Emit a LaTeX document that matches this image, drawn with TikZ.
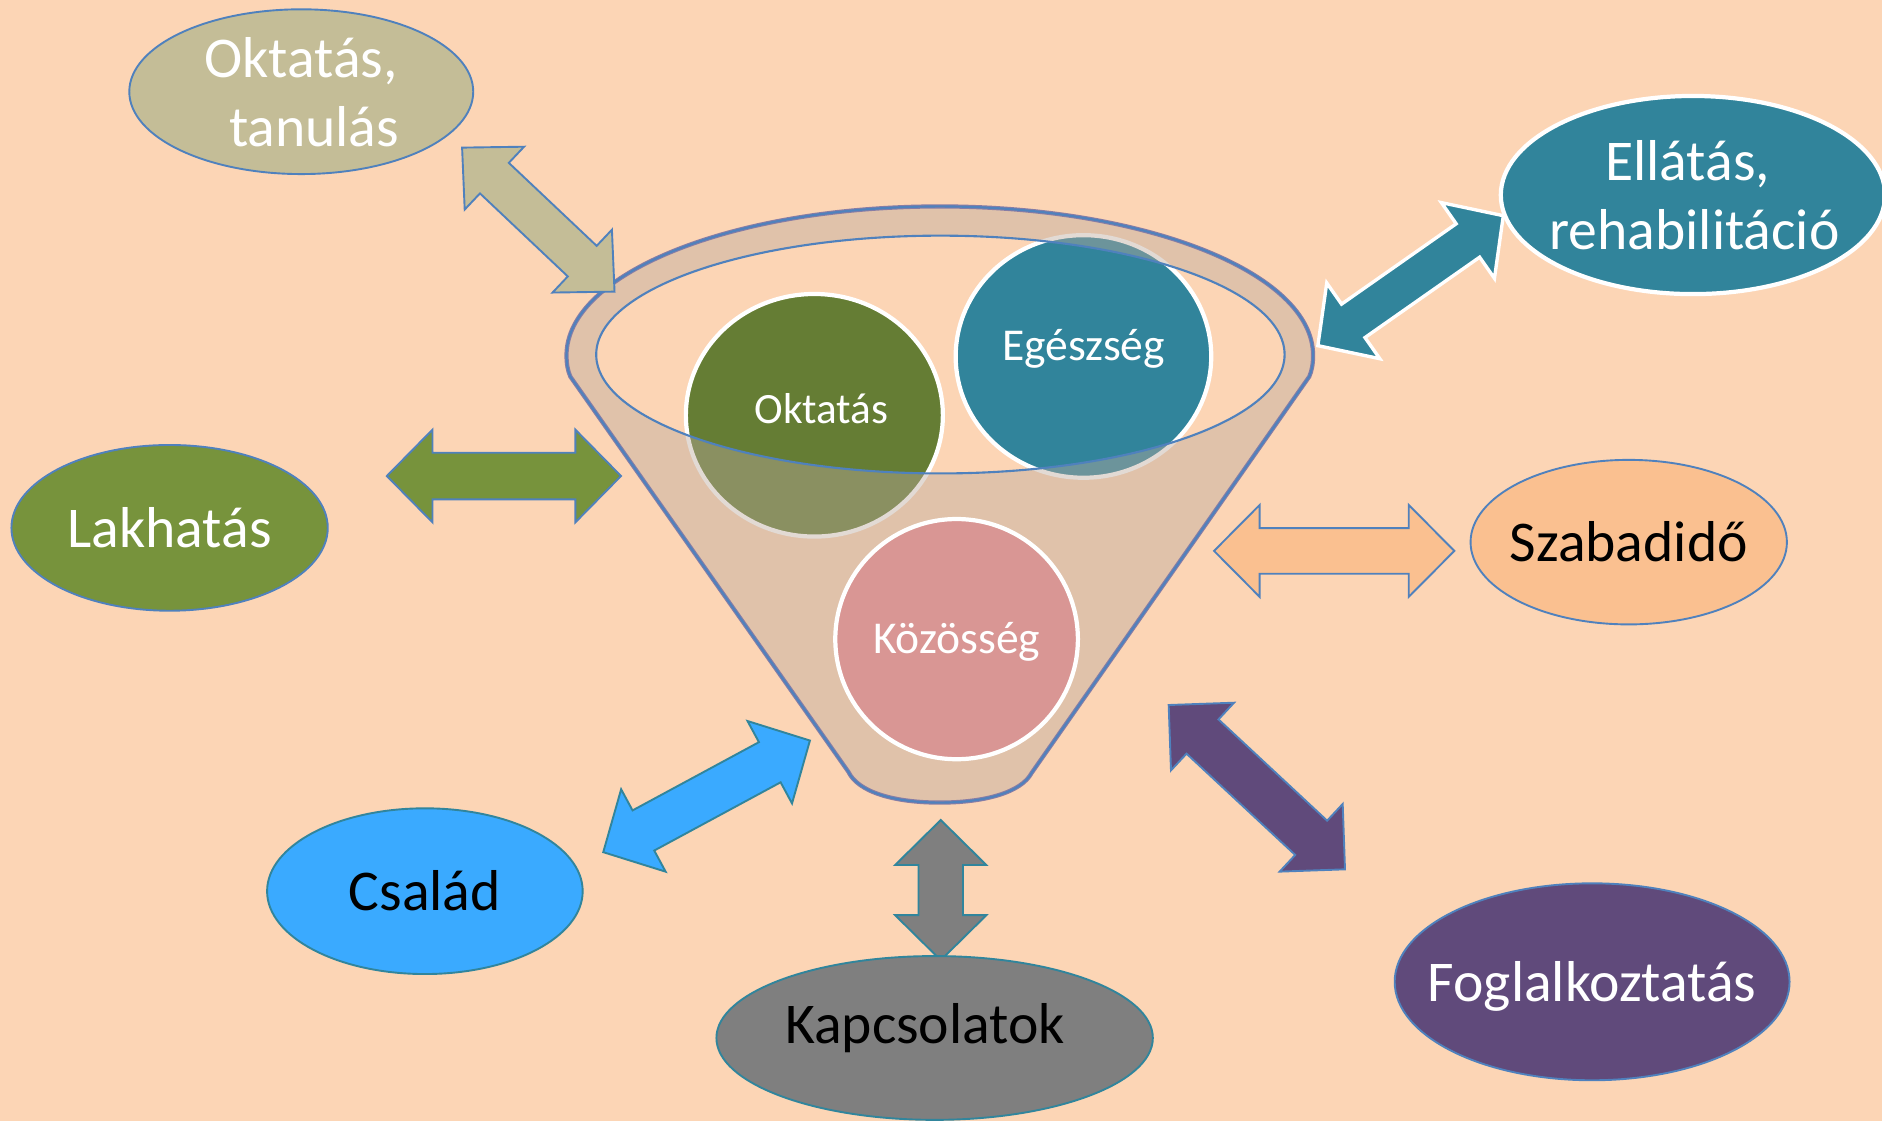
\documentclass[tikz,border=0pt]{standalone}
\usepackage{fontspec}
\setmainfont{Carlito}
\usetikzlibrary{calc,shapes.geometric}
\definecolor{bgc}{RGB}{252,213,181}
\definecolor{tanc}{RGB}{196,189,151}
\definecolor{linec}{RGB}{79,129,189}
\definecolor{tealc}{RGB}{49,132,155}
\definecolor{tealline}{RGB}{49,133,156}
\definecolor{grnc}{RGB}{119,147,60}
\definecolor{olivc}{RGB}{101,125,52}
\definecolor{rosec}{RGB}{217,150,148}
\definecolor{peachc}{RGB}{250,192,144}
\definecolor{bluec}{RGB}{58,170,255}
\definecolor{grayc}{RGB}{127,127,127}
\definecolor{purc}{RGB}{96,74,123}
\definecolor{func}{RGB}{188,170,157}
\definecolor{shadc}{RGB}{135,125,165}
% #1 style, #2 start coordinate, #3 end coordinate, #4 half shaft, #5 half head, #6 head length
\newcommand\dblarrow[6]{%
  \path ($(#2)!#6!(#3)$) coordinate (#2-p) ($(#3)!#6!(#2)$) coordinate (#3-q);
  \draw[#1] (#2) -- ($(#2-p)!#5!90:(#3)$) -- ($(#2-p)!#4!90:(#3)$)
    -- ($(#3-q)!#4!-90:(#2)$) -- ($(#3-q)!#5!-90:(#2)$) -- (#3)
    -- ($(#3-q)!#5!90:(#2)$) -- ($(#3-q)!#4!90:(#2)$)
    -- ($(#2-p)!#4!-90:(#3)$) -- ($(#2-p)!#5!-90:(#3)$) -- cycle;}
\begin{document}
\begin{tikzpicture}[x=0.01cm,y=-0.01cm,
  bigfont/.style={font=\fontsize{13.66pt}{16.4pt}\selectfont},
  outer/.style={ellipse, inner xsep=-0.8cm, inner ysep=0pt, bigfont, text height=0.32cm, text depth=0pt, line width=0.45pt},
  inner/.style={ellipse, inner xsep=-0.6cm, inner ysep=0pt, draw=white, line width=1pt, text=white,
    font=\fontsize{10.8pt}{13pt}\selectfont, text height=0.245cm, text depth=0pt},
  otxt/.style={bigfont, inner sep=0pt, anchor=base},
  arr/.style={line width=0.45pt, line join=miter}]
\useasboundingbox (0,0) rectangle (1568,934);
\fill[bgc] (0,0) rectangle (1568,934);
% circles in the funnel (under its tinted body)
\node[inner, fill=olivc, minimum width=2.14cm, minimum height=2.02cm,
  font=\fontsize{10.24pt}{12pt}\selectfont] (okt) at (678.5,346) {\hspace*{0.12cm}\raisebox{0.05cm}{Oktatás}};
\node[inner, fill=tealc, minimum width=2.128cm, minimum height=2.02cm] (ege) at (902.7,297) {\raisebox{0.09cm}{Egészség}};
% funnel body
\fill[func, fill opacity=0.43, even odd rule]
  (475.2,313.8) .. controls (473,309) and (472,303) .. (472,296)
  .. controls (472,227.5) and (611.2,172) .. (783,172)
  .. controls (954.8,172) and (1094,227.5) .. (1094,296)
  .. controls (1094,303) and (1093,309) .. (1090.8,313.8)
  -- (859.5,644)
  .. controls (851,660) and (821,668.7) .. (783,668.7)
  .. controls (745,668.7) and (715,660) .. (706.8,643)
  -- cycle
  (783.5,295.4) ellipse [x radius=2.866cm, y radius=0.99cm];
\foreach \c/\w in {shadc/1.0pt, linec/0.5pt}{
\draw[\c, line width=\w, line join=round]
  (475.2,313.8) .. controls (473,309) and (472,303) .. (472,296)
  .. controls (472,227.5) and (611.2,172) .. (783,172)
  .. controls (954.8,172) and (1094,227.5) .. (1094,296)
  .. controls (1094,303) and (1093,309) .. (1090.8,313.8)
  -- (859.5,644)
  .. controls (851,660) and (821,668.7) .. (783,668.7)
  .. controls (745,668.7) and (715,660) .. (706.8,643)
  -- cycle;}
\draw[linec, line width=0.5pt] (783.5,295.4) ellipse [x radius=2.866cm, y radius=0.99cm];
\node[inner, fill=rosec, minimum width=2.02cm, minimum height=2.0cm] (koz) at (797,532.5) {Közösség};
% arrow end points
\coordinate (tA1) at (385,123);    \coordinate (tA2) at (512,243);
\coordinate (gA1) at (322.3,396.6); \coordinate (gA2) at (517.4,396.6);
\coordinate (eA1) at (1098,288);   \coordinate (eA2) at (1252.5,179.7);
\coordinate (pA1) at (1011.5,459); \coordinate (pA2) at (1211.7,459);
\coordinate (bA1) at (502.6,710);  \coordinate (bA2) at (674.8,617);
\coordinate (kA1) at (783.8,683.2); \coordinate (kA2) at (783.8,800);
\coordinate (fA1) at (973.7,587.4); \coordinate (fA2) at (1120.6,724.3);
\dblarrow{arr, fill=tanc, draw=linec}{tA1}{tA2}{0.175cm}{0.36cm}{0.37cm}
\dblarrow{arr, fill=grnc, draw=linec}{gA1}{gA2}{0.194cm}{0.386cm}{0.38cm}
\dblarrow{arr, fill=tealc, draw=white, line width=0.8pt}{eA1}{eA2}{0.17cm}{0.385cm}{0.36cm}
\dblarrow{arr, fill=peachc, draw=linec}{pA1}{pA2}{0.19cm}{0.383cm}{0.38cm}
\dblarrow{arr, fill=bluec, draw=tealline}{bA1}{bA2}{0.19cm}{0.39cm}{0.38cm}
\dblarrow{arr, fill=grayc, draw=tealline}{kA1}{kA2}{0.185cm}{0.38cm}{0.375cm}
\dblarrow{arr, fill=purc, draw=linec}{fA1}{fA2}{0.195cm}{0.385cm}{0.385cm}
% outer ellipses
\node[outer, fill=tanc, draw=linec, minimum width=2.864cm, minimum height=1.372cm] (edu) at (251,76.4) {};
\node[otxt, text=white] (edu1) at (251,64.4) {Oktatás,};
\node[otxt, text=white] (edu2) at (261.7,122.2) {tanulás};
\node[outer, fill=grnc, draw=linec, text=white, minimum width=2.634cm, minimum height=1.38cm] (lak) at (141.3,439.8) {Lakhatás};
\node[outer, fill=tealc, draw=white, line width=1pt, minimum width=3.2cm, minimum height=1.65cm] (ell) at (1410.5,162.5) {};
\node[otxt, text=white] (ell1) at (1406,150) {Ellátás,};
\node[otxt, text=white] (ell2) at (1411.8,208) {rehabilitáció};
\node[outer, fill=peachc, draw=linec, text=black, minimum width=2.634cm, minimum height=1.37cm] (sza) at (1357,451.7) {Szabadidő};
\node[outer, fill=bluec, draw=tealline, text=black, minimum width=2.628cm, minimum height=1.38cm] (csa) at (354,742.5) {Család};
\node[outer, fill=grayc, draw=tealline, text=black, minimum width=3.634cm, minimum height=1.364cm] (kap) at (778.7,864.8) {\raisebox{0.11cm}{Kapcsolatok}\hspace*{0.16cm}};
\node[outer, fill=purc, draw=linec, text=white, minimum width=3.288cm, minimum height=1.64cm] (fog) at (1326.5,818) {Foglalkoztatás};
\end{tikzpicture}
\end{document}
